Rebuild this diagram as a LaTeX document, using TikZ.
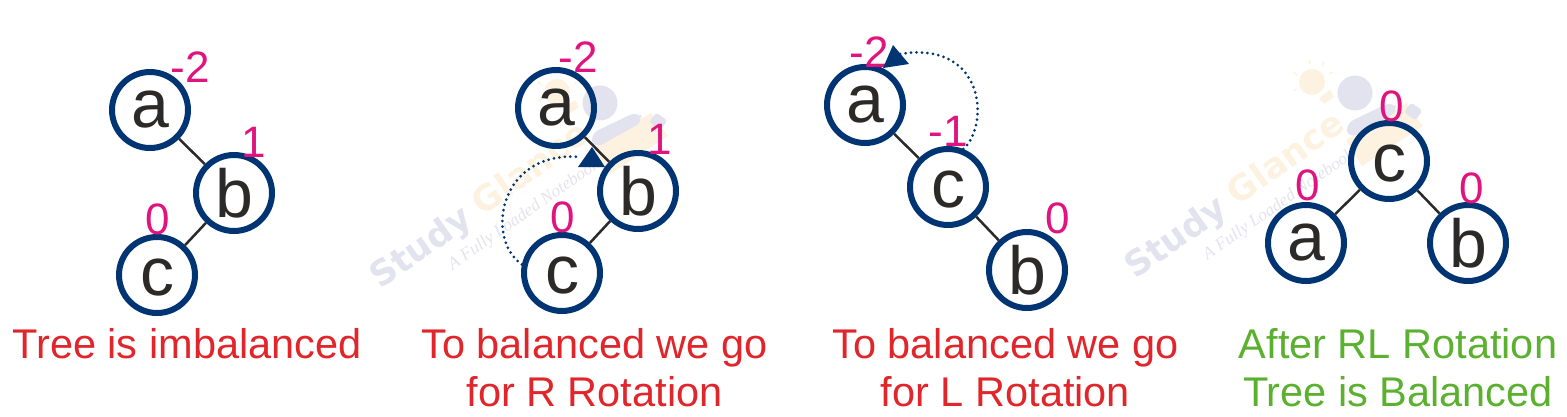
\documentclass[tikz,border=0pt]{standalone}
\usepackage{fontspec}
\setmainfont{Liberation Sans}
\newfontfamily\wmbold{DejaVu Sans Bold}
\newfontfamily\wmserif{Liberation Serif}
\definecolor{navy}{HTML}{003473}
\definecolor{pinkbal}{HTML}{E0147F}
\definecolor{redcap}{HTML}{E0252B}
\definecolor{greencap}{HTML}{5BB030}
\definecolor{edgeink}{HTML}{2B2A29}
\definecolor{wmblue}{HTML}{E3E3EF}
\definecolor{wmorange}{HTML}{FDF2DF}
\tikzset{
  x=1pt,y=-1pt,
  treenode/.style={circle,draw=navy,line width=6pt,minimum size=76pt,inner sep=0pt,
    font=\fontsize{68}{68}\selectfont,text=edgeink,text depth=0pt},
  la/.style={treenode,text height=34pt},
  lb/.style={treenode,text height=48pt},
  lc/.style={treenode,text height=40pt},
  treeedge/.style={draw=edgeink,line width=2.5pt},
  bal/.style={text=pinkbal,font=\fontsize{44}{44}\selectfont,inner sep=0pt,yshift=-1pt},
  caption/.style={font=\fontsize{41.5}{48}\selectfont,inner sep=0pt,align=center},
  rotpath/.style={draw=navy,line width=3pt,line cap=round,dash pattern=on 0pt off 5.5pt},
  rothead/.style={fill=navy,draw=none},
  wmword/.style={font=\wmbold\fontsize{35}{35}\selectfont,rotate=35,inner sep=0pt},
  wmsub/.style={font=\wmserif\itshape\fontsize{17.5}{17.5}\selectfont,rotate=35,text=wmblue,inner sep=0pt},
}
\newcommand{\wmark}[2]{%
\begin{scope}[shift={(#1,#2)}]
  \fill[wmorange] (-43,-11) circle (13);
  \fill[wmorange] (-36,5) -- (-25,-3) -- (-21,4) -- (-31,11) -- cycle;
  \draw[wmorange,line width=1.5pt] (-62,-21)--(-58,-18) (-46,-33)--(-45,-29) (-31,-31)--(-33,-27) (-22,-21)--(-26,-19) (-62,-2)--(-58,-4);
  \fill[wmorange] (-9,47) -- (7,73) -- (68,33) -- (51,10) -- cycle;
  \fill[wmblue] (0,0) circle (17.5);
  \fill[wmblue,rounded corners=9pt] (-10,31) -- (-6,46) -- (44,18) -- (38,8) -- cycle;
  \fill[wmblue,rotate around={-35:(58,17)},rounded corners=3pt] (52,12) rectangle (66,24);
  \node[wmword,text=wmblue] at (-178,146) {Study};
  \node[wmword,text=wmorange] at (-70,64) {Glance};
  \node[wmsub] at (-76,112) {A Fully Loaded Notebook};
\end{scope}}
\begin{document}
\begin{tikzpicture}
\useasboundingbox (0,0) rectangle (1567,416);
\wmark{600}{103}
\wmark{1355}{93}
% tree 1
\node[la] (a1) at (150,110) {a};
\node[lb] (b1) at (234,193) {b};
\node[lc] (c1) at (157,275) {c};
\draw[treeedge] (a1) -- (b1);
\draw[treeedge] (b1) -- (c1);
\node[bal] (ba1) at (190,66) {-2};
\node[bal] (bb1) at (254,141) {1};
\node[bal] (bc1) at (158,218) {0};
\node[caption,text=redcap] (cap1) at (187,344) {Tree is imbalanced};
% tree 2
\node[la] (a2) at (556,108) {a};
\node[lb] (b2) at (638,191) {b};
\node[lc] (c2) at (562,273) {c};
\draw[treeedge] (a2) -- (b2);
\draw[treeedge] (b2) -- (c2);
\node[bal] (ba2) at (578,56) {-2};
\node[bal] (bb2) at (660,138) {1};
\node[bal] (bc2) at (563,216) {0};
\coordinate (h2) at (580,157);
\draw[rotpath] (c2.168) .. controls (484,238) and (500,150) .. (h2);
\fill[rothead] (592,147) -- (605,167) -- (578,167) -- cycle;
\node[caption,text=redcap] (cap2) at (594.5,368) {To balanced we go\\for R Rotation};
% tree 3
\node[la] (a3) at (865,105) {a};
\node[lc] (c3) at (948,187) {c};
\node[lb] (b3) at (1027,270) {b};
\draw[treeedge] (a3) -- (c3);
\draw[treeedge] (c3) -- (b3);
\node[bal] (ba3) at (869,51) {-2};
\node[bal] (bc3) at (948,130) {-1};
\node[bal] (bb3) at (1058,217) {0};
\coordinate (h3) at (900,54);
\draw[rotpath] (c3.68) .. controls (990,125) and (985,40) .. (h3);
\fill[rothead] (893,45) -- (909,64) -- (883,68) -- cycle;
\node[caption,text=redcap] (cap3) at (1005.5,368) {To balanced we go\\for L Rotation};
% tree 4
\node[lc] (c4) at (1389,161) {c};
\node[la] (a4) at (1306,243) {a};
\node[lb] (b4) at (1468,243) {b};
\draw[treeedge] (c4) -- (a4);
\draw[treeedge] (c4) -- (b4);
\node[bal] (bc4) at (1392,105) {0};
\node[bal] (ba4) at (1308,184) {0};
\node[bal] (bb4) at (1472,187) {0};
\node[caption,text=greencap] (cap4) at (1398,368) {After RL Rotation\\Tree is Balanced};
\end{tikzpicture}
\end{document}
